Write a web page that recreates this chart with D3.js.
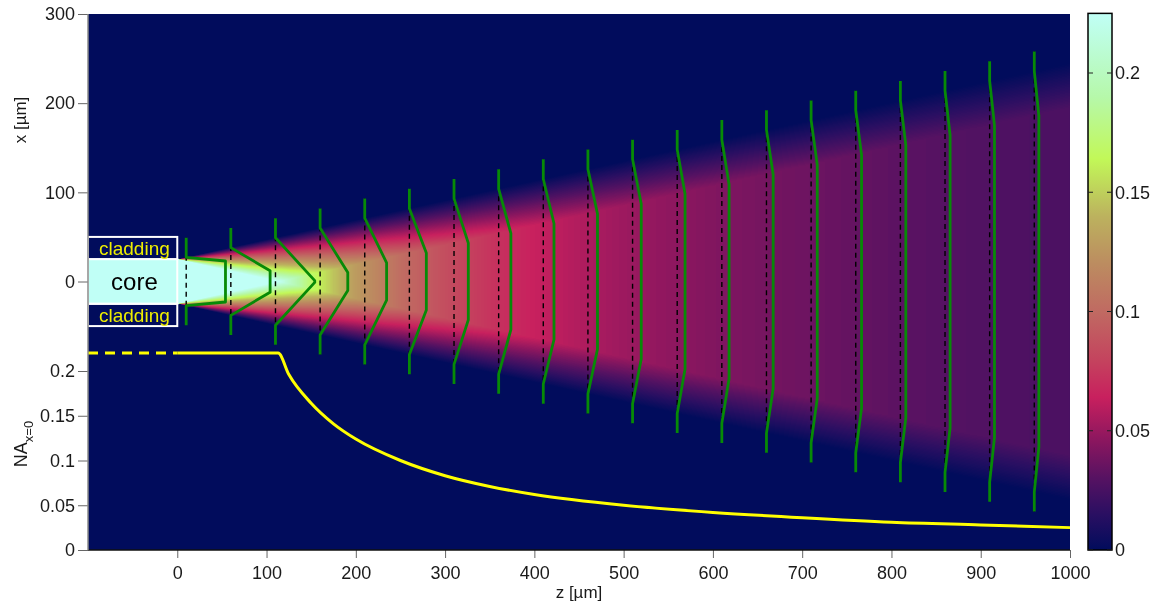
<!DOCTYPE html>
<html>
<head>
<meta charset="utf-8">
<script src="https://cdn.jsdelivr.net/npm/d3@7"></script>
<style>
    body { margin: 0; background: #fff; }
    #chart { position: relative; width: 1155px; height: 608px; }
    #chart canvas, #chart svg { position: absolute; left: 0; top: 0; }
    text { font-family: "Liberation Sans", Arial, sans-serif; }
</style>
</head>
<body>
<div id="chart"></div>
<script>
// Ticks.
const zTicks = [0, 100, 200, 300, 400, 500, 600, 700, 800, 900, 1000];
const xTicks = [0, 100, 200, 300];
const naTicks = [0, 0.05, 0.1, 0.15, 0.2];
const cbTicks = [0, 0.05, 0.1, 0.15, 0.2];

// Colour map.
const cmapValue = [0, 0.015, 0.03, 0.045, 0.064, 0.08, 0.1, 0.12, 0.14, 0.164, 0.19, 0.225];
const cmapColor = ['#010c5c', '#2a0f62', '#561262', '#88165f', '#c8205e', '#c4445e',
                   '#c06a62', '#bc8c60', '#bcb25e', '#c2f858', '#b6f8aa', '#c0fff6'];

// Beam profile: peak value, plateau and outer half widths (um).
const profileZ     = [0, 25, 50, 75, 100, 113, 125, 150, 175, 200, 250, 300, 350, 400, 450, 500, 600, 700, 800, 900, 1000];
const profilePeak  = [0.225, 0.225, 0.225, 0.225, 0.225, 0.225, 0.205, 0.171, 0.146, 0.128, 0.102, 0.085, 0.073, 0.064, 0.057, 0.051, 0.043, 0.037, 0.032, 0.028, 0.026];
const profileInner = [25, 19.5, 14, 8.5, 3, 0, 2.5, 8, 13.5, 19, 30, 41, 52, 63, 74, 85, 107, 129, 151, 173, 195];
const profileOuter = [25, 30.5, 36, 41.5, 47, 50, 52.5, 58, 63.5, 69, 80, 91, 102, 113, 124, 135, 157, 179, 201, 223, 245];

// Wavefronts (green) and their reference planes (dashed).
const frontZ     = [10, 60, 110, 160, 210, 260, 310, 360, 410, 460, 510, 560, 610, 660, 710, 760, 810, 860, 910, 960];
const frontShift = [44, 44, 44, 31, 24.5, 19, 16, 13.7, 12, 10.7, 9.7, 8.8, 8.1, 7.5, 6.9, 6.5, 6.1, 5.7, 5.4, 5.1];
const frontInner = [23, 12, 1, 10, 21, 32, 43, 54, 65, 76, 87, 98, 109, 120, 131, 142, 153, 164, 175, 186];
const frontOuter = [27, 38, 49, 60, 71, 82, 93, 104, 115, 126, 137, 148, 159, 170, 181, 192, 203, 214, 225, 236];
const frontSpan  = [49, 60, 71, 82, 93, 104, 115, 126, 137, 148, 159, 170, 181, 192, 203, 214, 225, 236, 247, 258];

// Numerical aperture on axis.
const naZ     = [0, 113, 125, 150, 175, 200, 250, 300, 350, 400, 500, 600, 700, 800, 900, 1000];
const naValue = [0.22, 0.22, 0.196, 0.164, 0.141, 0.124, 0.1, 0.083, 0.071, 0.062, 0.05, 0.042, 0.036, 0.031, 0.028, 0.025];
const naLeadZ = [-100, 0];
const naLead  = [0.22, 0.22];

const W = 1155, H = 608;
const plot = {left: 88, right: 1070, top: 14, bottom: 550};
const vMax = 0.225;
const tickFont = '18px';

const zScale = d3.scaleLinear().domain([-100, 1000]).range([plot.left, plot.right]);
const xScale = d3.scaleLinear().domain([-300, 300]).range([549, 14]);
const naScale = d3.scaleLinear().domain([0, 0.2]).range([550, 371]);
const cbScale = d3.scaleLinear().domain([0, 0.2]).range([550, 73]);
const color = d3.scaleLinear().domain(cmapValue).range(cmapColor).interpolate(d3.interpolateRgb).clamp(true);

const chart = d3.select('#chart');
drawHeatmap();
const svg = chart.append('svg').attr('width', W).attr('height', H);
drawFibre();
drawFronts();
drawNA();
drawAxis();
drawColorbar();

function drawHeatmap() {
    const canvas = chart.append('canvas').attr('width', W).attr('height', H).node();
    const ctx = canvas.getContext('2d');
    const w = plot.right - plot.left, h = plot.bottom - plot.top;
    const img = ctx.createImageData(w, h);
    const lut = d3.range(256).map(i => d3.rgb(color(i / 255 * vMax)));
    const peakAt = d3.scaleLinear().domain(profileZ).range(profilePeak).clamp(true);
    const innerAt = d3.scaleLinear().domain(profileZ).range(profileInner).clamp(true);
    const outerAt = d3.scaleLinear().domain(profileZ).range(profileOuter).clamp(true);

    for (let i = 0; i < w; i++) {
        const z = zScale.invert(plot.left + i + 0.5);
        const peak = z < 0 ? 0 : peakAt(z);
        const inner = innerAt(z), outer = outerAt(z);
        for (let j = 0; j < h; j++) {
            const ax = Math.abs(xScale.invert(plot.top + j + 0.5));
            let v = 0;
            if (ax <= inner) v = peak;
            else if (ax < outer) v = peak * (outer - ax) / (outer - inner);
            const c = lut[Math.round(Math.min(v / vMax, 1) * 255)];
            const k = (j * w + i) * 4;
            img.data[k] = c.r;
            img.data[k + 1] = c.g;
            img.data[k + 2] = c.b;
            img.data[k + 3] = 255;
        }
    }
    ctx.putImageData(img, plot.left, plot.top);
}

function drawFibre() {
    const g = svg.append('g');
    const boxes = [
        {lo: 25, hi: 50, fill: 'none'},
        {lo: -25, hi: 25, fill: color(vMax)},
        {lo: -50, hi: -25, fill: 'none'}
    ];
    g.selectAll('rect')
        .data(boxes)
        .enter()
        .append('rect')
        .attr('x', zScale(-100))
        .attr('y', d => xScale(d.hi))
        .attr('width', zScale(0) - zScale(-100))
        .attr('height', d => xScale(d.lo) - xScale(d.hi))
        .style('fill', d => d.fill)
        .style('stroke', '#fff')
        .style('stroke-width', 2);

    const zMid = zScale(-48);
    g.append('text')
        .attr('x', zMid).attr('y', xScale(0)).attr('dy', '0.35em')
        .attr('text-anchor', 'middle')
        .style('font-size', '24px').style('fill', '#000')
        .text('core');
    [37.5, -37.5].forEach(x => {
        g.append('text')
            .attr('x', zMid).attr('y', xScale(x)).attr('dy', '0.35em')
            .attr('text-anchor', 'middle')
            .style('font-size', '19px').style('fill', '#eeee00')
            .text('cladding');
    });
}

function drawFronts() {
    const fronts = frontZ.map((z, i) => ({
        z: z, shift: frontShift[i], inner: frontInner[i], outer: frontOuter[i], span: frontSpan[i]
    }));
    const line = d3.line().x(p => zScale(p[0])).y(p => xScale(p[1]));

    svg.append('g')
        .selectAll('line')
        .data(fronts)
        .enter()
        .append('line')
        .attr('x1', d => zScale(d.z)).attr('x2', d => zScale(d.z))
        .attr('y1', d => xScale(d.span)).attr('y2', d => xScale(-d.span))
        .style('stroke', '#000')
        .style('stroke-width', 1.4)
        .style('stroke-dasharray', '5,4');

    svg.append('g')
        .selectAll('path')
        .data(fronts)
        .enter()
        .append('path')
        .attr('d', d => line([
            [d.z, d.span], [d.z, d.outer], [d.z + d.shift, d.inner],
            [d.z + d.shift, -d.inner], [d.z, -d.outer], [d.z, -d.span]
        ]))
        .style('fill', 'none')
        .style('stroke', '#078a07')
        .style('stroke-width', 2.8)
        .style('stroke-linejoin', 'round');
}

function drawNA() {
    const line = d3.line().x(d => zScale(d[0])).y(d => naScale(d[1])).curve(d3.curveMonotoneX);
    svg.append('path')
        .attr('d', line(naLeadZ.map((z, i) => [z, naLead[i]])))
        .style('fill', 'none')
        .style('stroke', '#ffff00')
        .style('stroke-width', 3)
        .style('stroke-dasharray', '10,7');
    svg.append('path')
        .attr('d', line(naZ.map((z, i) => [z, naValue[i]])))
        .style('fill', 'none')
        .style('stroke', '#ffff00')
        .style('stroke-width', 3);
}

function drawAxis() {
    const axisZ = d3.axisBottom(zScale).tickValues(zTicks).tickSize(8).tickPadding(8).tickSizeOuter(0)
        .tickFormat(d => String(d));
    const axisX = d3.axisLeft(xScale).tickValues(xTicks).tickSize(10).tickPadding(3)
        .tickFormat(d => String(d));
    const axisNA = d3.axisLeft(naScale).tickValues(naTicks).tickSize(10).tickPadding(3)
        .tickFormat(d => String(d));

    const gz = svg.append('g').attr('transform', `translate(0, ${plot.bottom})`).call(axisZ);
    const gx = svg.append('g').attr('transform', `translate(${plot.left}, 0)`).call(axisX);
    const gn = svg.append('g').attr('transform', `translate(${plot.left}, 0)`).call(axisNA);
    [gz, gx, gn].forEach(g => {
        g.select('.domain').remove();
        g.selectAll('.tick line').style('stroke', '#666');
        g.selectAll('.tick text').style('font-size', tickFont).style('fill', '#1a1a1a')
            .style('font-family', '"Liberation Sans", Arial, sans-serif');
    });

    svg.append('line')
        .attr('x1', plot.left).attr('x2', plot.right)
        .attr('y1', plot.bottom).attr('y2', plot.bottom)
        .style('stroke', '#111').style('stroke-width', 1.5);
    svg.append('line')
        .attr('x1', plot.left).attr('x2', plot.left)
        .attr('y1', plot.top).attr('y2', plot.bottom)
        .style('stroke', '#8a8a8a').style('stroke-width', 1.5);

    svg.append('text')
        .attr('x', (plot.left + plot.right) / 2).attr('y', 598)
        .attr('text-anchor', 'middle')
        .style('font-size', '17px').style('fill', '#1a1a1a')
        .text('z [\u00b5m]');

    svg.append('text')
        .attr('transform', 'translate(26, 120) rotate(-90)')
        .attr('text-anchor', 'middle')
        .style('font-size', '17px').style('fill', '#1a1a1a')
        .text('x [\u00b5m]');

    const na = svg.append('text')
        .attr('transform', 'translate(27, 444) rotate(-90)')
        .attr('text-anchor', 'middle')
        .style('font-size', '18px').style('fill', '#1a1a1a');
    na.append('tspan').text('NA');
    na.append('tspan').attr('dy', '6').style('font-size', '13px').text('x=0');
}

function drawColorbar() {
    const x0 = 1088, x1 = 1112;
    const top = cbScale(vMax);
    const grad = svg.append('defs').append('linearGradient')
        .attr('id', 'cbGrad')
        .attr('x1', 0).attr('y1', 1).attr('x2', 0).attr('y2', 0);
    grad.selectAll('stop')
        .data(cmapValue)
        .enter()
        .append('stop')
        .attr('offset', d => d / vMax)
        .attr('stop-color', (d, i) => cmapColor[i]);

    svg.append('rect')
        .attr('x', x0).attr('y', top)
        .attr('width', x1 - x0).attr('height', cbScale(0) - top)
        .style('fill', 'url(#cbGrad)')
        .style('stroke', '#000').style('stroke-width', 1.5);

    const ticks = svg.append('g').selectAll('g').data(cbTicks).enter().append('g');
    ticks.append('line')
        .attr('x1', x0).attr('x2', x0 + 5)
        .attr('y1', d => cbScale(d)).attr('y2', d => cbScale(d))
        .style('stroke', '#222');
    ticks.append('line')
        .attr('x1', x1 - 5).attr('x2', x1)
        .attr('y1', d => cbScale(d)).attr('y2', d => cbScale(d))
        .style('stroke', '#222');
    ticks.append('text')
        .attr('x', x1 + 3).attr('y', d => cbScale(d)).attr('dy', '0.35em')
        .style('font-size', tickFont).style('fill', '#1a1a1a')
        .text(d => String(d));
}
</script>
</body>
</html>
